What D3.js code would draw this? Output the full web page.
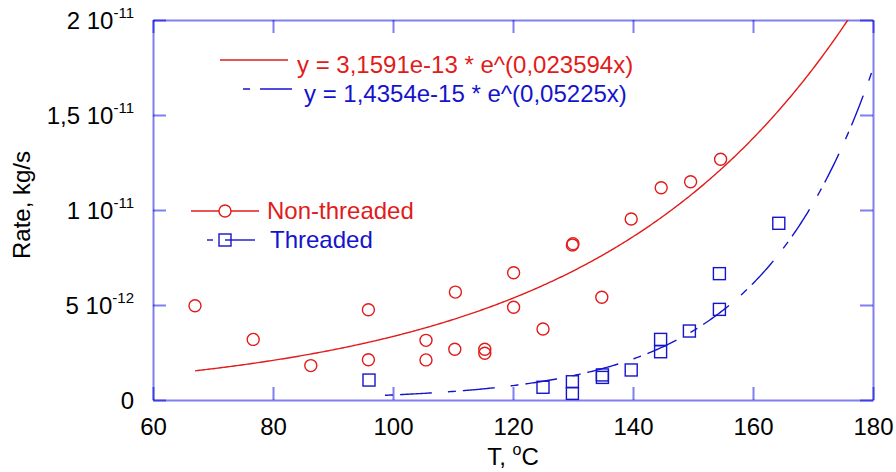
<!DOCTYPE html>
<html>
<head>
<meta charset="utf-8">
<script src="https://cdnjs.cloudflare.com/ajax/libs/d3/7.8.5/d3.min.js"></script>
<style>
body{margin:0;background:#fff;}
text{font-family:"Liberation Sans",Arial,sans-serif;}
</style>
</head>
<body>
<svg id="chart" width="896" height="472"></svg>
<script>
//////////////////////////////////////////////////
// データ (rate: 1e-12 kg/s)
var nonThreadedT = [67.0, 76.7, 86.3, 95.9, 95.9, 105.5, 105.5, 110.4, 110.3, 115.3, 115.3, 120.1, 120.1, 125.0, 129.9, 130.0, 134.8, 139.7, 144.7, 149.6, 154.6];
var nonThreadedRate = [4.96, 3.19, 1.81, 4.75, 2.12, 3.14, 2.11, 5.68, 2.67, 2.67, 2.46, 6.70, 4.88, 3.74, 8.16, 8.23, 5.41, 9.53, 11.17, 11.49, 12.67];
var threadedT = [96.0, 125.0, 129.9, 129.9, 134.9, 134.9, 139.7, 144.6, 144.6, 149.4, 154.4, 154.4, 164.3];
var threadedRate = [1.05, 0.67, 0.96, 0.35, 1.32, 1.19, 1.58, 3.19, 2.54, 3.63, 4.77, 6.65, 9.30];

// fit: y = a * e^(b x)
var fitNonThreaded = [3.1591e-13, 0.023594];
var fitThreaded = [1.4354e-15, 0.05225];

var xTicks = [60, 80, 100, 120, 140, 160, 180];
var yTicks = [0, 5e-12, 1e-11, 1.5e-11, 2e-11];
var yTickMant = ["0", "5", "1", "1,5", "2"];
var yTickExp = ["", "-12", "-11", "-11", "-11"];
var eqLabels = ["y = 3,1591e-13 * e^(0,023594x)", "y = 1,4354e-15 * e^(0,05225x)"];
var seriesNames = ["Non-threaded", "Threaded"];

var RED = "#e21b1b", BLUE = "#1414cc", AXIS = "#0000dd";
var FS = 24;

//////////////////////////////////////////////////
var svg = d3.select("#chart");
var L = 153, R = 873, T = 20, B = 400;

var x = d3.scaleLinear().domain([60, 180]).range([L, R]);
var y = d3.scaleLinear().domain([0, 2e-11]).range([B, T]);

svg.append("clipPath").attr("id", "clip")
  .append("rect").attr("x", L).attr("y", T).attr("width", R - L).attr("height", B - T);

// 軸 (内向き目盛り, 4辺)
function styleAxis(g){
  g.selectAll(".domain, .tick line")
    .attr("stroke", AXIS).attr("stroke-opacity", 0.5).attr("stroke-width", 2);
  g.selectAll("text").attr("font-size", FS).attr("fill", "#000")
    .attr("font-family", "Liberation Sans, Arial, sans-serif");
}

svg.append("g").attr("transform", "translate(0," + B + ")")
  .call(d3.axisBottom(x).tickValues(xTicks).tickSize(-13).tickSizeOuter(0).tickPadding(18))
  .call(styleAxis);
svg.append("g").attr("transform", "translate(0," + T + ")")
  .call(d3.axisTop(x).tickValues(xTicks).tickSize(-13).tickSizeOuter(0).tickFormat(""))
  .call(styleAxis);
svg.append("g").attr("transform", "translate(" + L + ",0)")
  .call(d3.axisLeft(y).tickValues(yTicks).tickSize(-13).tickSizeOuter(0).tickFormat(""))
  .call(styleAxis);
svg.append("g").attr("transform", "translate(" + R + ",0)")
  .call(d3.axisRight(y).tickValues(yTicks).tickSize(-13).tickSizeOuter(0).tickFormat(""))
  .call(styleAxis);

// y 目盛りラベル "5 10^-12"
yTicks.forEach(function(v, i){
  var t = svg.append("text").attr("x", 134).attr("y", y(v) + 9)
    .attr("text-anchor", "end").attr("font-size", FS);
  if (yTickExp[i] === "") { t.text(yTickMant[i]); return; }
  t.append("tspan").text(yTickMant[i] + " 10");
  t.append("tspan").attr("font-size", 15).attr("dy", -11).text(yTickExp[i]);
});

// 軸タイトル
var xl = svg.append("text").attr("x", (L + R) / 2).attr("y", 465)
  .attr("text-anchor", "middle").attr("font-size", FS);
xl.append("tspan").text("T, ");
xl.append("tspan").attr("font-size", 16).attr("dy", -10).text("o");
xl.append("tspan").attr("dy", 10).text("C");

svg.append("text").attr("transform", "translate(30," + 205 + ") rotate(-90)")
  .attr("text-anchor", "middle").attr("font-size", FS).text("Rate, kg/s");

//////////////////////////////////////////////////
// フィット曲線
function fitPoints(p, t0, t1){
  return d3.range(t0, t1 + 0.001, 0.25).map(function(t){ return [t, p[0] * Math.exp(p[1] * t)]; });
}
var line = d3.line().x(function(d){ return x(d[0]); }).y(function(d){ return y(d[1]); });

var plot = svg.append("g").attr("clip-path", "url(#clip)");
plot.append("path").datum(fitPoints(fitNonThreaded, d3.min(nonThreadedT), 180))
  .attr("d", line).attr("fill", "none").attr("stroke", RED).attr("stroke-width", 1.4);
plot.append("path").datum(fitPoints(fitThreaded, d3.min(threadedT), 180))
  .attr("d", line).attr("fill", "none").attr("stroke", BLUE).attr("stroke-width", 1.4)
  .attr("stroke-dasharray", "8,7,32,16").attr("stroke-dashoffset", 47);

// 点
svg.append("g").selectAll("circle").data(nonThreadedT).join("circle")
  .attr("cx", function(d){ return x(d); })
  .attr("cy", function(d, i){ return y(nonThreadedRate[i] * 1e-12); })
  .attr("r", 6).attr("fill", "none").attr("stroke", RED).attr("stroke-width", 1.4);

svg.append("g").selectAll("rect").data(threadedT).join("rect")
  .attr("x", function(d){ return x(d) - 6; })
  .attr("y", function(d, i){ return y(threadedRate[i] * 1e-12) - 6; })
  .attr("width", 12).attr("height", 12)
  .attr("fill", "none").attr("stroke", BLUE).attr("stroke-width", 1.4);

//////////////////////////////////////////////////
// 凡例 (式)
svg.append("line").attr("x1", 220).attr("x2", 288).attr("y1", 60).attr("y2", 60)
  .attr("stroke", RED).attr("stroke-width", 1.4);
svg.append("text").attr("x", 297).attr("y", 73).attr("font-size", FS).attr("fill", RED).text(eqLabels[0]);

svg.append("line").attr("x1", 243).attr("x2", 292).attr("y1", 89).attr("y2", 89)
  .attr("stroke", BLUE).attr("stroke-width", 1.4).attr("stroke-dasharray", "7,10,32,100");
svg.append("text").attr("x", 304).attr("y", 101.5).attr("font-size", FS).attr("fill", BLUE).text(eqLabels[1]);

// 凡例 (系列)
svg.append("line").attr("x1", 191).attr("x2", 259).attr("y1", 211).attr("y2", 211)
  .attr("stroke", RED).attr("stroke-width", 1.4);
svg.append("circle").attr("cx", 225).attr("cy", 211).attr("r", 6)
  .attr("fill", "#fff").attr("stroke", RED).attr("stroke-width", 1.4);
svg.append("text").attr("x", 267).attr("y", 219).attr("font-size", FS).attr("fill", RED).text(seriesNames[0]);

svg.append("line").attr("x1", 207).attr("x2", 213).attr("y1", 240).attr("y2", 240)
  .attr("stroke", BLUE).attr("stroke-width", 1.4);
svg.append("line").attr("x1", 225).attr("x2", 255).attr("y1", 240).attr("y2", 240)
  .attr("stroke", BLUE).attr("stroke-width", 1.4);
svg.append("rect").attr("x", 219).attr("y", 234).attr("width", 12).attr("height", 12)
  .attr("fill", "none").attr("stroke", BLUE).attr("stroke-width", 1.4);
svg.append("text").attr("x", 270).attr("y", 248).attr("font-size", FS).attr("fill", BLUE).text(seriesNames[1]);
</script>
</body>
</html>
